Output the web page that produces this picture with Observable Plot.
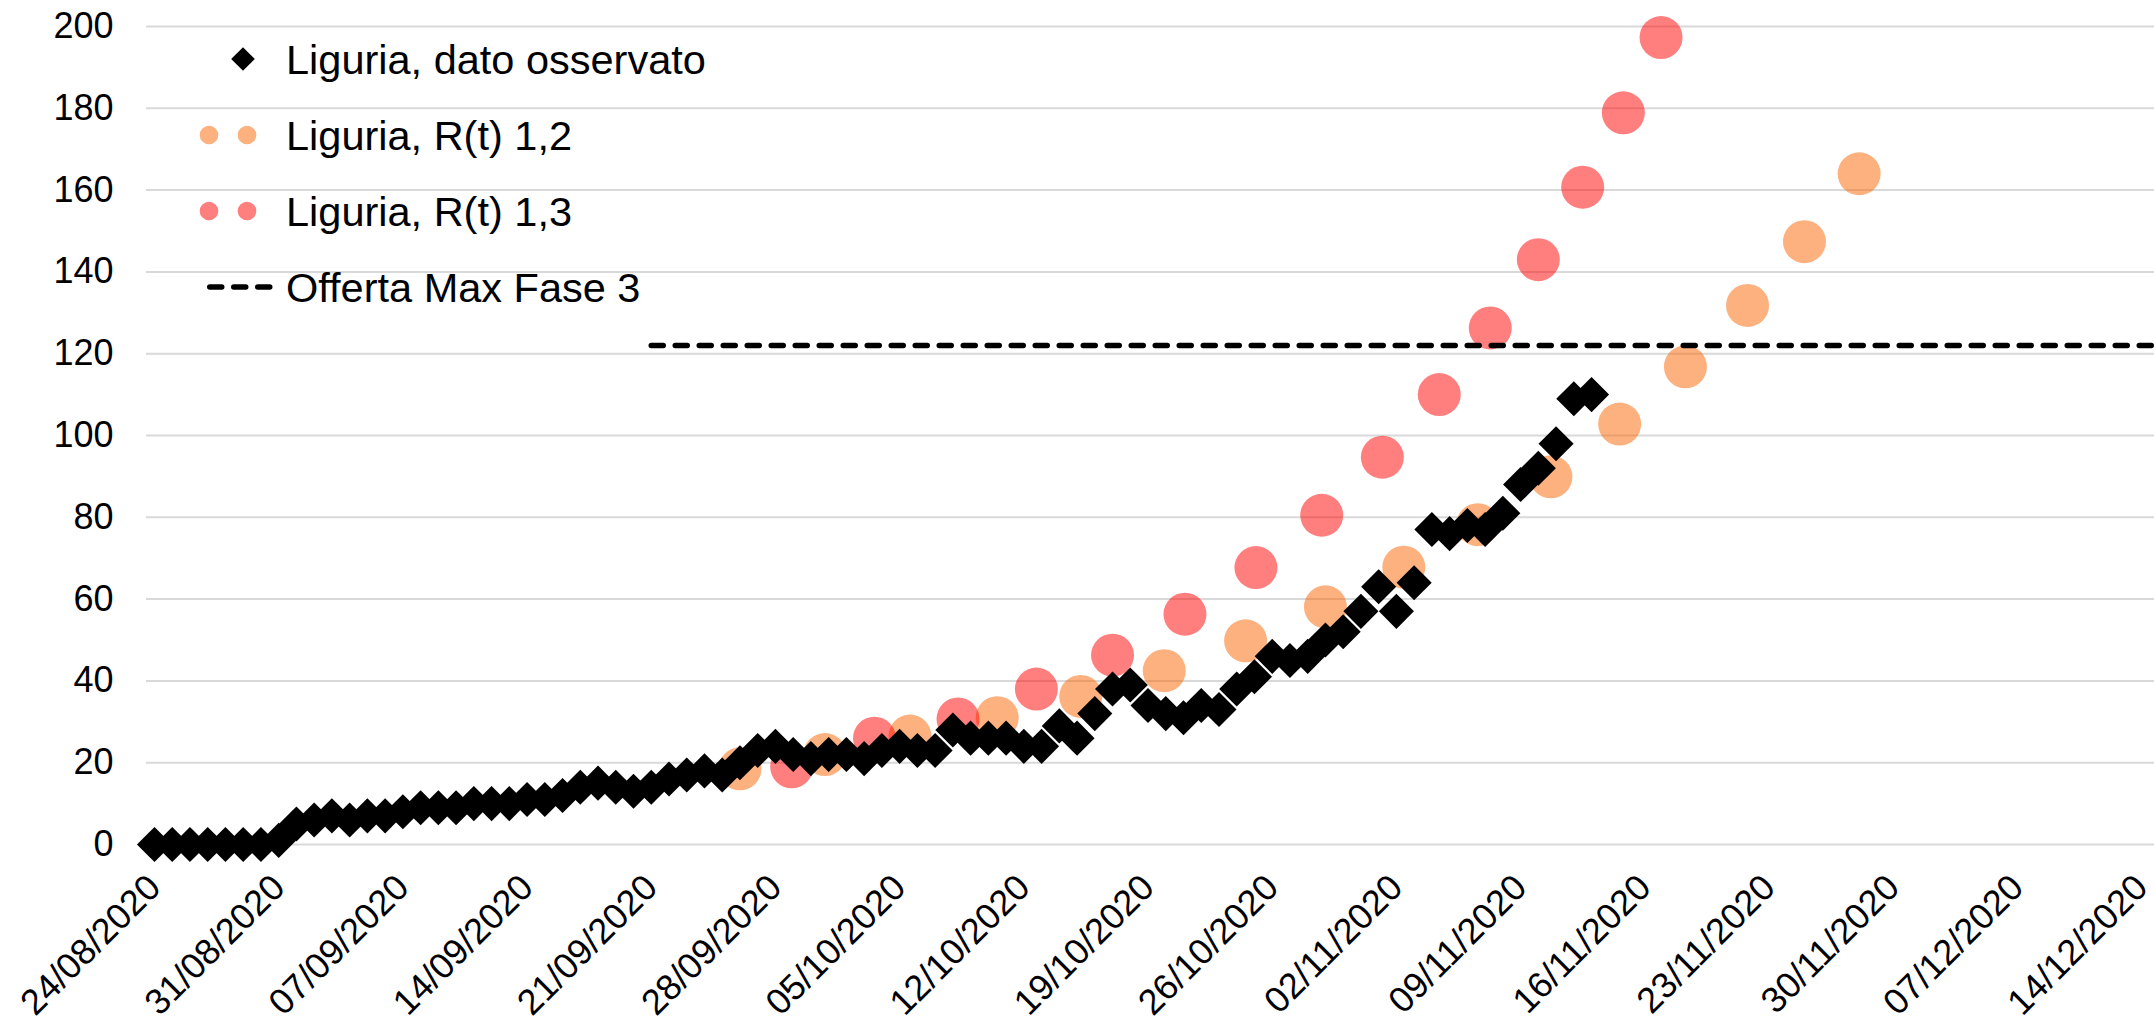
<!DOCTYPE html>
<html>
<head>
<meta charset="utf-8">
<script src="https://cdn.jsdelivr.net/npm/d3@7"></script>
<script src="https://cdn.jsdelivr.net/npm/@observablehq/plot@0.6"></script>
<style>
  html, body { margin: 0; padding: 0; background: #fff; overflow: hidden; }
  #wrap { position: relative; width: 2154px; height: 1023px; font-family: "Liberation Sans", Arial, sans-serif; }
  #legend { position: absolute; left: 0; top: 0; }
</style>
</head>
<body>
<div id="wrap"><div id="chart"></div><svg id="legend" width="760" height="330"></svg></div>
<script>
// ---- data ----
const obsStart = "2020-08-24";
const obsValues = [
  0, 0, 0, 0, 0, 0, 0, 1, 5, 6, 7, 6, 7, 7, 8, 9, 9, 9, 10, 10, 10,
  11, 11, 12, 14, 15, 14, 13, 14, 16, 17, 18, 17, 20, 23, 24, 22, 21,
  22, 22, 21, 23, 24, 23, 23, 28, 26, 26, 26, 24, 24, 29, 26, 32, 38,
  39, 34, 32, 31, 34, 33, 38, 41, 46, 45, 46, 50, 52, 57, 63, 57, 64,
  77, 76, 78, 77, 81, 88, 92, 98, 109, 110
];
const r12Dates = [
  "2020-09-26T00:00Z", "2020-09-30T19:00Z", "2020-10-05T14:00Z", "2020-10-10T12:00Z",
  "2020-10-15T05:00Z", "2020-10-19T22:00Z", "2020-10-24T12:00Z", "2020-10-29T00:00Z",
  "2020-11-02T10:00Z", "2020-11-06T14:00Z", "2020-11-10T17:00Z", "2020-11-14T14:00Z",
  "2020-11-18T07:00Z", "2020-11-21T19:00Z", "2020-11-25T00:00Z", "2020-11-28T02:00Z"
];
const r12Values = [18.5, 22, 26.5, 31, 36.2, 42.5, 49.8, 58.1, 67.8, 78.2, 89.9, 102.8, 116.8, 131.8, 147.4, 164];
const r13Dates = [
  "2020-09-28T22:00Z", "2020-10-03T14:00Z", "2020-10-08T07:00Z", "2020-10-12T17:00Z",
  "2020-10-17T00:00Z", "2020-10-21T02:00Z", "2020-10-25T02:00Z", "2020-10-28T19:00Z",
  "2020-11-01T05:00Z", "2020-11-04T10:00Z", "2020-11-07T07:00Z", "2020-11-10T00:00Z",
  "2020-11-12T12:00Z", "2020-11-14T19:00Z", "2020-11-16T22:00Z"
];
const r13Values = [19, 26, 30.7, 38, 46.3, 56.3, 67.7, 80.5, 94.7, 110, 126.3, 143, 160.7, 178.9, 197.3];
const offertaDates = ["2020-09-21", "2020-12-16"];
const offertaValues = [122, 122];
const xTickDates = [
  "2020-08-24", "2020-08-31", "2020-09-07", "2020-09-14", "2020-09-21", "2020-09-28",
  "2020-10-05", "2020-10-12", "2020-10-19", "2020-10-26", "2020-11-02", "2020-11-09",
  "2020-11-16", "2020-11-23", "2020-11-30", "2020-12-07", "2020-12-14"
];
const yTicks = [0, 20, 40, 60, 80, 100, 120, 140, 160, 180, 200];
const legendLabels = ["Liguria, dato osservato", "Liguria, R(t) 1,2", "Liguria, R(t) 1,3", "Offerta Max Fase 3"];

// ---- build tables ----
const day = 864e5;
const obs = obsValues.map((v, i) => ({date: d3.utcDay.offset(new Date(obsStart), i), value: v}));
const r12 = r12Dates.map((d, i) => ({date: new Date(d), value: r12Values[i]}));
const r13 = r13Dates.map((d, i) => ({date: new Date(d), value: r13Values[i]}));
const offerta = offertaDates.map((d, i) => ({date: new Date(d), value: offertaValues[i]}));
const xTicks = xTickDates.map(d => new Date(d));

const orange = "#FA6400", red = "#FF0000";
const x0 = new Date(+new Date("2020-08-24") - 0.45 * day);
const x1 = new Date(+new Date("2020-12-14") + 0.73 * day);

const chart = Plot.plot({
  width: 2154,
  height: 1023,
  marginLeft: 146,
  marginRight: 0,
  marginTop: 26,
  marginBottom: 179,
  style: {fontFamily: "'Liberation Sans', Arial, sans-serif", fontSize: "36px", color: "#000", background: "#fff", overflow: "hidden"},
  x: {type: "utc", domain: [x0, x1]},
  y: {domain: [0, 200]},
  marks: [
    Plot.gridY(yTicks, {stroke: "#d9d9d9", strokeOpacity: 1, strokeWidth: 2}),
    Plot.dot(r12, {x: "date", y: "value", r: 21.5, fill: orange, fillOpacity: 0.5, stroke: null}),
    Plot.dot(r13, {x: "date", y: "value", r: 21.5, fill: red, fillOpacity: 0.5, stroke: null}),
    Plot.line(offerta, {x: "date", y: "value", stroke: "#000", strokeWidth: 5.5, strokeDasharray: "12,12", strokeLinecap: "round"}),
    Plot.dot(obs, {x: "date", y: "value", symbol: "diamond2", r: 15.8, fill: "#000", stroke: null}),
    Plot.axisY(yTicks, {tickSize: 0, tickPadding: 33, fontSize: 36, label: null}),
    Plot.axisX(xTicks, {tickSize: 0, tickPadding: 37, tickRotate: -45, textAnchor: "end", lineAnchor: "middle",
      tickFormat: d3.utcFormat("%d/%m/%Y"), fontSize: 36, label: null})
  ]
});
document.getElementById("chart").appendChild(chart);

// ---- legend (overlay inside plot area) ----
const lg = d3.select("#legend");
const rowsY = [59, 135, 211, 287];
const textX = 286;
legendLabels.forEach((t, i) => {
  lg.append("text").attr("x", textX).attr("y", rowsY[i]).attr("dy", "0.36em")
    .attr("font-family", "'Liberation Sans', Arial, sans-serif").attr("font-size", 41.5).attr("fill", "#000").text(t);
});
lg.append("path").attr("d", d3.symbol(d3.symbolDiamond2, Math.pow(11.8 / 0.62625, 2))())
  .attr("transform", `translate(243,${rowsY[0]})`).attr("fill", "#000");
[209, 247].forEach(cx => {
  lg.append("circle").attr("cx", cx).attr("cy", rowsY[1]).attr("r", 9.3).attr("fill", orange).attr("fill-opacity", 0.5);
  lg.append("circle").attr("cx", cx).attr("cy", rowsY[2]).attr("r", 9.3).attr("fill", red).attr("fill-opacity", 0.5);
});
lg.append("line").attr("x1", 209.75).attr("x2", 269.75).attr("y1", rowsY[3]).attr("y2", rowsY[3])
  .attr("stroke", "#000").attr("stroke-width", 5.5).attr("stroke-dasharray", "12,12").attr("stroke-linecap", "round");
</script>
</body>
</html>
